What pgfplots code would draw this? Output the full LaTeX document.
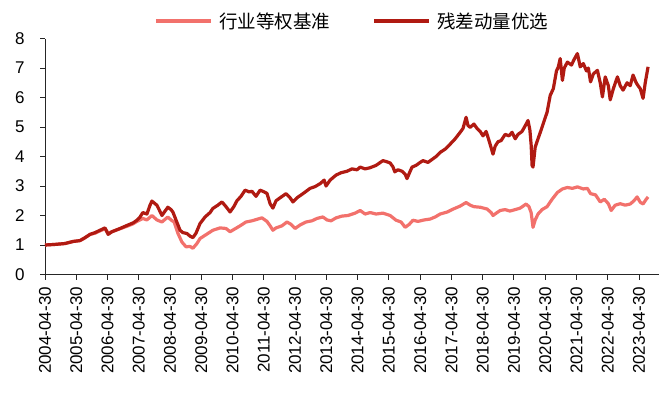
\documentclass[border=0pt]{standalone}
\usepackage{pgfplots}
\pgfplotsset{compat=1.18}
\usepackage{fontspec}
\setmainfont{Liberation Sans}
\newfontfamily\cjk{Noto Sans CJK SC}
\definecolor{darkred}{RGB}{176,26,18}
\definecolor{pinkred}{RGB}{242,113,108}
\begin{document}
\begin{tikzpicture}
\useasboundingbox (-45bp,-121.5bp) rectangle (615bp,274.5bp);
\begin{axis}[
  at={(0,0)}, anchor=south west,
  scale only axis, width=614bp, height=236bp,
  xmin=2004.33, xmax=2023.97, ymin=0, ymax=8,
  axis x line=bottom, axis y line=left,
  axis line style={-, line width=0.9bp, black!85},
  tick style={line width=0.9bp, black!85},
  tick align=outside, major tick length=5bp,
  ytick={0,1,2,3,4,5,6,7,8},
  xtick={2004.33,2005.33,2006.33,2007.33,2008.33,2009.33,2010.33,2011.33,2012.33,2013.33,2014.33,2015.33,2016.33,2017.33,2018.33,2019.33,2020.33,2021.33,2022.33,2023.33},
  xticklabels={2004-04-30,2005-04-30,2006-04-30,2007-04-30,2008-04-30,2009-04-30,2010-04-30,2011-04-30,2012-04-30,2013-04-30,2014-04-30,2015-04-30,2016-04-30,2017-04-30,2018-04-30,2019-04-30,2020-04-30,2021-04-30,2022-04-30,2023-04-30},
  /pgf/number format/assume math mode=true,
  xticklabel style={rotate=90, anchor=east, font=\fontsize{17bp}{18bp}\selectfont, xshift=-4bp},
  yticklabel style={font=\fontsize{17bp}{18bp}\selectfont, xshift=-12bp},
  legend columns=2,
  legend style={at={(0.5,1.074)}, anchor=center, draw=none, fill=none,
    font=\cjk\fontsize{18.5bp}{19bp}\selectfont,
    /tikz/every odd column/.append style={column sep=4bp},
    /tikz/every even column/.append style={column sep=40bp}},
  legend image code/.code={\draw[#1, line width=4.5bp] (0bp,0bp) -- (55bp,0bp);},
]
\addplot[pinkred, line width=3.2bp, line join=round] coordinates {
(2004.33,1.00)(2004.65,1.02)(2004.97,1.05)(2005.23,1.12)(2005.45,1.15)(2005.61,1.24)(2005.77,1.36)(2005.93,1.40)(2006.09,1.48)
(2006.25,1.55)(2006.35,1.40)(2006.47,1.45)(2006.73,1.55)(2006.99,1.65)(2007.15,1.72)(2007.27,1.80)(2007.46,1.90)(2007.59,1.85)
(2007.75,2.00)(2007.91,1.85)(2008.07,1.78)(2008.26,1.95)(2008.36,1.85)(2008.46,1.78)(2008.58,1.40)(2008.71,1.10)(2008.84,0.94)
(2008.97,0.95)(2009.06,0.89)(2009.19,1.05)(2009.29,1.22)(2009.48,1.35)(2009.70,1.50)(2009.93,1.58)(2010.12,1.56)(2010.25,1.45)
(2010.41,1.55)(2010.57,1.65)(2010.76,1.78)(2010.95,1.82)(2011.14,1.88)(2011.27,1.92)(2011.43,1.80)(2011.53,1.65)(2011.62,1.50)
(2011.72,1.58)(2011.91,1.65)(2012.07,1.78)(2012.20,1.70)(2012.33,1.56)(2012.49,1.68)(2012.68,1.78)(2012.87,1.82)(2013.03,1.90)
(2013.22,1.95)(2013.35,1.85)(2013.48,1.82)(2013.64,1.92)(2013.83,1.98)(2014.02,2.00)(2014.25,2.08)(2014.41,2.17)(2014.57,2.05)
(2014.73,2.10)(2014.92,2.05)(2015.14,2.08)(2015.37,2.00)(2015.56,1.84)(2015.72,1.78)(2015.85,1.60)(2015.98,1.70)(2016.10,1.84)
(2016.26,1.80)(2016.46,1.85)(2016.65,1.88)(2016.81,1.95)(2016.97,2.05)(2017.20,2.12)(2017.39,2.22)(2017.61,2.32)(2017.80,2.44)
(2017.93,2.35)(2018.05,2.30)(2018.25,2.28)(2018.47,2.22)(2018.60,2.10)(2018.66,2.00)(2018.79,2.10)(2018.89,2.17)(2019.05,2.20)
(2019.20,2.15)(2019.37,2.20)(2019.53,2.25)(2019.72,2.39)(2019.81,2.30)(2019.88,2.10)(2019.94,1.60)(2020.01,1.85)(2020.10,2.05)
(2020.23,2.20)(2020.39,2.30)(2020.55,2.55)(2020.72,2.78)(2020.88,2.90)(2021.04,2.95)(2021.20,2.92)(2021.36,2.97)(2021.55,2.90)
(2021.68,2.92)(2021.78,2.74)(2021.94,2.70)(2022.09,2.46)(2022.22,2.55)(2022.35,2.40)(2022.44,2.17)(2022.57,2.35)(2022.73,2.40)
(2022.89,2.35)(2023.05,2.39)(2023.17,2.50)(2023.27,2.63)(2023.37,2.45)(2023.46,2.39)(2023.56,2.55)(2023.62,2.63)
};
\addlegendentry{行业等权基准}
\addplot[darkred, line width=3.2bp, line join=round] coordinates {
(2004.33,1.00)(2004.65,1.02)(2004.97,1.05)(2005.23,1.12)(2005.45,1.15)(2005.61,1.25)(2005.77,1.36)(2005.93,1.42)(2006.09,1.50)
(2006.25,1.58)(2006.35,1.36)(2006.47,1.45)(2006.73,1.56)(2006.99,1.68)(2007.15,1.75)(2007.27,1.84)(2007.37,1.95)(2007.46,2.10)
(2007.59,2.05)(2007.69,2.35)(2007.75,2.49)(2007.85,2.40)(2007.91,2.35)(2007.98,2.20)(2008.07,2.00)(2008.17,2.15)(2008.26,2.28)
(2008.36,2.20)(2008.42,2.12)(2008.52,1.85)(2008.65,1.50)(2008.74,1.42)(2008.87,1.39)(2008.97,1.30)(2009.06,1.25)(2009.16,1.40)
(2009.29,1.73)(2009.45,1.95)(2009.61,2.10)(2009.70,2.24)(2009.86,2.35)(2009.99,2.46)(2010.12,2.30)(2010.25,2.12)(2010.37,2.30)
(2010.47,2.50)(2010.60,2.65)(2010.73,2.86)(2010.86,2.80)(2010.95,2.82)(2011.08,2.65)(2011.21,2.86)(2011.34,2.80)(2011.43,2.75)
(2011.53,2.40)(2011.62,2.25)(2011.72,2.50)(2011.85,2.60)(2012.04,2.74)(2012.17,2.60)(2012.26,2.46)(2012.39,2.60)(2012.58,2.74)
(2012.81,2.92)(2012.97,2.98)(2013.13,3.08)(2013.26,3.20)(2013.32,3.00)(2013.45,3.20)(2013.64,3.37)(2013.80,3.45)(2013.99,3.50)
(2014.15,3.58)(2014.31,3.55)(2014.41,3.64)(2014.57,3.58)(2014.73,3.62)(2014.92,3.70)(2015.14,3.86)(2015.27,3.82)(2015.37,3.78)
(2015.46,3.65)(2015.52,3.48)(2015.62,3.55)(2015.75,3.50)(2015.85,3.40)(2015.91,3.25)(2016.01,3.50)(2016.07,3.64)(2016.20,3.70)
(2016.33,3.80)(2016.42,3.86)(2016.58,3.80)(2016.71,3.90)(2016.84,4.00)(2016.97,4.14)(2017.13,4.25)(2017.29,4.42)(2017.45,4.60)
(2017.61,4.82)(2017.70,4.95)(2017.80,5.33)(2017.86,5.05)(2017.93,4.99)(2018.05,5.10)(2018.15,4.95)(2018.25,4.85)(2018.34,4.70)
(2018.44,4.85)(2018.53,4.55)(2018.60,4.30)(2018.66,4.08)(2018.73,4.35)(2018.82,4.50)(2018.92,4.54)(2019.05,4.75)(2019.17,4.70)
(2019.27,4.82)(2019.37,4.60)(2019.46,4.75)(2019.59,4.85)(2019.72,5.10)(2019.78,5.22)(2019.84,4.90)(2019.88,4.40)(2019.91,3.70)
(2019.94,3.64)(2020.01,4.32)(2020.10,4.60)(2020.20,4.90)(2020.30,5.22)(2020.39,5.50)(2020.49,6.07)(2020.59,6.30)(2020.69,6.90)
(2020.75,7.04)(2020.81,7.32)(2020.88,6.58)(2020.94,7.00)(2021.04,7.20)(2021.17,7.10)(2021.26,7.30)(2021.36,7.49)(2021.45,7.04)
(2021.55,7.15)(2021.65,6.90)(2021.71,7.00)(2021.78,6.53)(2021.87,6.80)(2022.00,6.92)(2022.09,6.50)(2022.16,6.02)(2022.25,6.70)
(2022.35,6.40)(2022.41,5.92)(2022.51,6.30)(2022.64,6.70)(2022.73,6.40)(2022.82,6.25)(2022.95,6.50)(2023.05,6.40)(2023.14,6.76)
(2023.24,6.50)(2023.30,6.40)(2023.37,6.30)(2023.46,5.97)(2023.53,6.50)(2023.62,7.04)
};
\addlegendentry{残差动量优选}
\end{axis}
\end{tikzpicture}
\end{document}
